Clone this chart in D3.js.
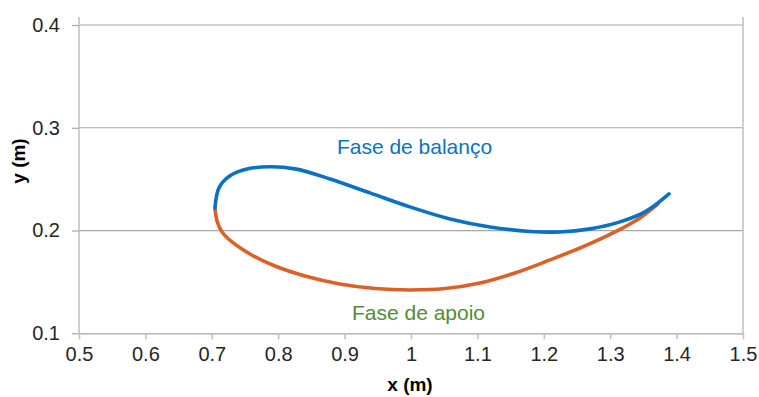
<!DOCTYPE html>
<html>
<head>
<meta charset="utf-8">
<script src="https://cdn.jsdelivr.net/npm/d3@7"></script>
<style>
  html, body { margin: 0; padding: 0; background: #fff; }
  svg { display: block; }
  text { font-family: "Liberation Sans", Arial, sans-serif; }
</style>
</head>
<body>
<script>
// ---- data ----
const xTicks = [0.5, 0.6, 0.7, 0.8, 0.9, 1, 1.1, 1.2, 1.3, 1.4, 1.5];
const xTickLabels = ["0.5", "0.6", "0.7", "0.8", "0.9", "1", "1.1", "1.2", "1.3", "1.4", "1.5"];
const yTicks = [0.1, 0.2, 0.3, 0.4];
const yTickLabels = ["0.1", "0.2", "0.3", "0.4"];

// Fase de balanço (swing)
const swingX = [0.7048, 0.7108, 0.7274, 0.7545, 0.7877, 0.8253, 0.8780, 0.9383, 0.9985, 1.0587, 1.1190, 1.1792, 1.2244, 1.2696, 1.3148, 1.3524, 1.3886];
const swingY = [0.2220, 0.2415, 0.2532, 0.2600, 0.2620, 0.2600, 0.2502, 0.2366, 0.2230, 0.2113, 0.2035, 0.1991, 0.1986, 0.2016, 0.2084, 0.2181, 0.2356];

// Fase de apoio (stance)
const stanceX = [0.7048, 0.7078, 0.7154, 0.7304, 0.7575, 0.7952, 0.8404, 0.8931, 0.9458, 0.9985, 1.0512, 1.1039, 1.1566, 1.2093, 1.2620, 1.3072, 1.3449, 1.3720];
const stanceY = [0.2220, 0.2093, 0.1986, 0.1889, 0.1772, 0.1655, 0.1558, 0.1480, 0.1436, 0.1422, 0.1436, 0.1490, 0.1587, 0.1714, 0.1850, 0.1986, 0.2123, 0.2259];

const labels = [
  { text: "Fase de balanço", x: 1.0053, y: 0.2745, color: "#0A72C4" },
  { text: "Fase de apoio", x: 1.0113, y: 0.1130, color: "#538B3A" }
];

// ---- layout ----
const W = 759, H = 397;
const svg = d3.select("body").append("svg").attr("width", W).attr("height", H);

const x = d3.scaleLinear().domain([0.5, 1.5]).range([79, 743]);
const y = d3.scaleLinear().domain([0.1, 0.4]).range([333.3, 25]);

// gridlines
svg.append("g").selectAll("line").data(yTicks.filter(d => d > 0.1)).join("line")
  .attr("x1", x(0.5)).attr("x2", x(1.5))
  .attr("y1", d => y(d)).attr("y2", d => y(d))
  .attr("stroke", "#A6A6A6").attr("stroke-width", 1.2);

// left and right vertical lines
[0.5, 1.5].forEach(v => {
  svg.append("line")
    .attr("x1", x(v)).attr("x2", x(v))
    .attr("y1", 17).attr("y2", y(0.1))
    .attr("stroke", "#BFBFBF").attr("stroke-width", 1.5);
});

// y axis
const yAxis = d3.axisLeft(y).tickValues(yTicks).tickSize(7).tickPadding(12)
  .tickFormat((d, i) => yTickLabels[i]);
const gy = svg.append("g").attr("transform", `translate(${x(0.5)},0)`).call(yAxis);
gy.select(".domain").remove();
gy.selectAll(".tick line").attr("stroke", "#A6A6A6").attr("stroke-width", 1.2);
gy.selectAll(".tick text").attr("fill", "#262626").style("font-size", "20px")
  .style("font-family", "'Liberation Sans', Arial, sans-serif");

// x axis
const xAxis = d3.axisBottom(x).tickValues(xTicks).tickSize(6).tickSizeOuter(0).tickPadding(8)
  .tickFormat((d, i) => xTickLabels[i]);
const gx = svg.append("g").attr("transform", `translate(0,${y(0.1)})`).call(xAxis);
gx.select(".domain").attr("stroke", "#A6A6A6").attr("stroke-width", 1.2);
gx.selectAll(".tick line").attr("stroke", "#BFBFBF").attr("stroke-width", 1.5);
gx.selectAll(".tick text").attr("fill", "#262626").style("font-size", "20px")
  .style("font-family", "'Liberation Sans', Arial, sans-serif");

// curves
const line = d3.line().x(d => x(d[0])).y(d => y(d[1])).curve(d3.curveCatmullRom.alpha(0.5));
const stance = stanceX.map((v, i) => [v, stanceY[i]]);
const swing = swingX.map((v, i) => [v, swingY[i]]);

svg.append("path").datum(stance).attr("d", line)
  .attr("fill", "none").attr("stroke", "#DC6126").attr("stroke-width", 3.6).attr("stroke-linecap", "round");
svg.append("path").datum(swing).attr("d", line)
  .attr("fill", "none").attr("stroke", "#0A72C4").attr("stroke-width", 3.6).attr("stroke-linecap", "round");

// labels
svg.append("g").selectAll("text").data(labels).join("text")
  .attr("x", d => x(d.x)).attr("y", d => y(d.y))
  .attr("text-anchor", "middle")
  .attr("fill", d => d.color)
  .style("font-size", "21px")
  .text(d => d.text);

// axis titles
svg.append("text").attr("x", 410).attr("y", 391).attr("text-anchor", "middle")
  .style("font-size", "19px").style("font-weight", "bold").attr("fill", "#000").text("x (m)");
svg.append("text").attr("transform", "translate(25,161) rotate(-90)").attr("text-anchor", "middle")
  .style("font-size", "19px").style("font-weight", "bold").attr("fill", "#000").text("y (m)");
</script>
</body>
</html>
